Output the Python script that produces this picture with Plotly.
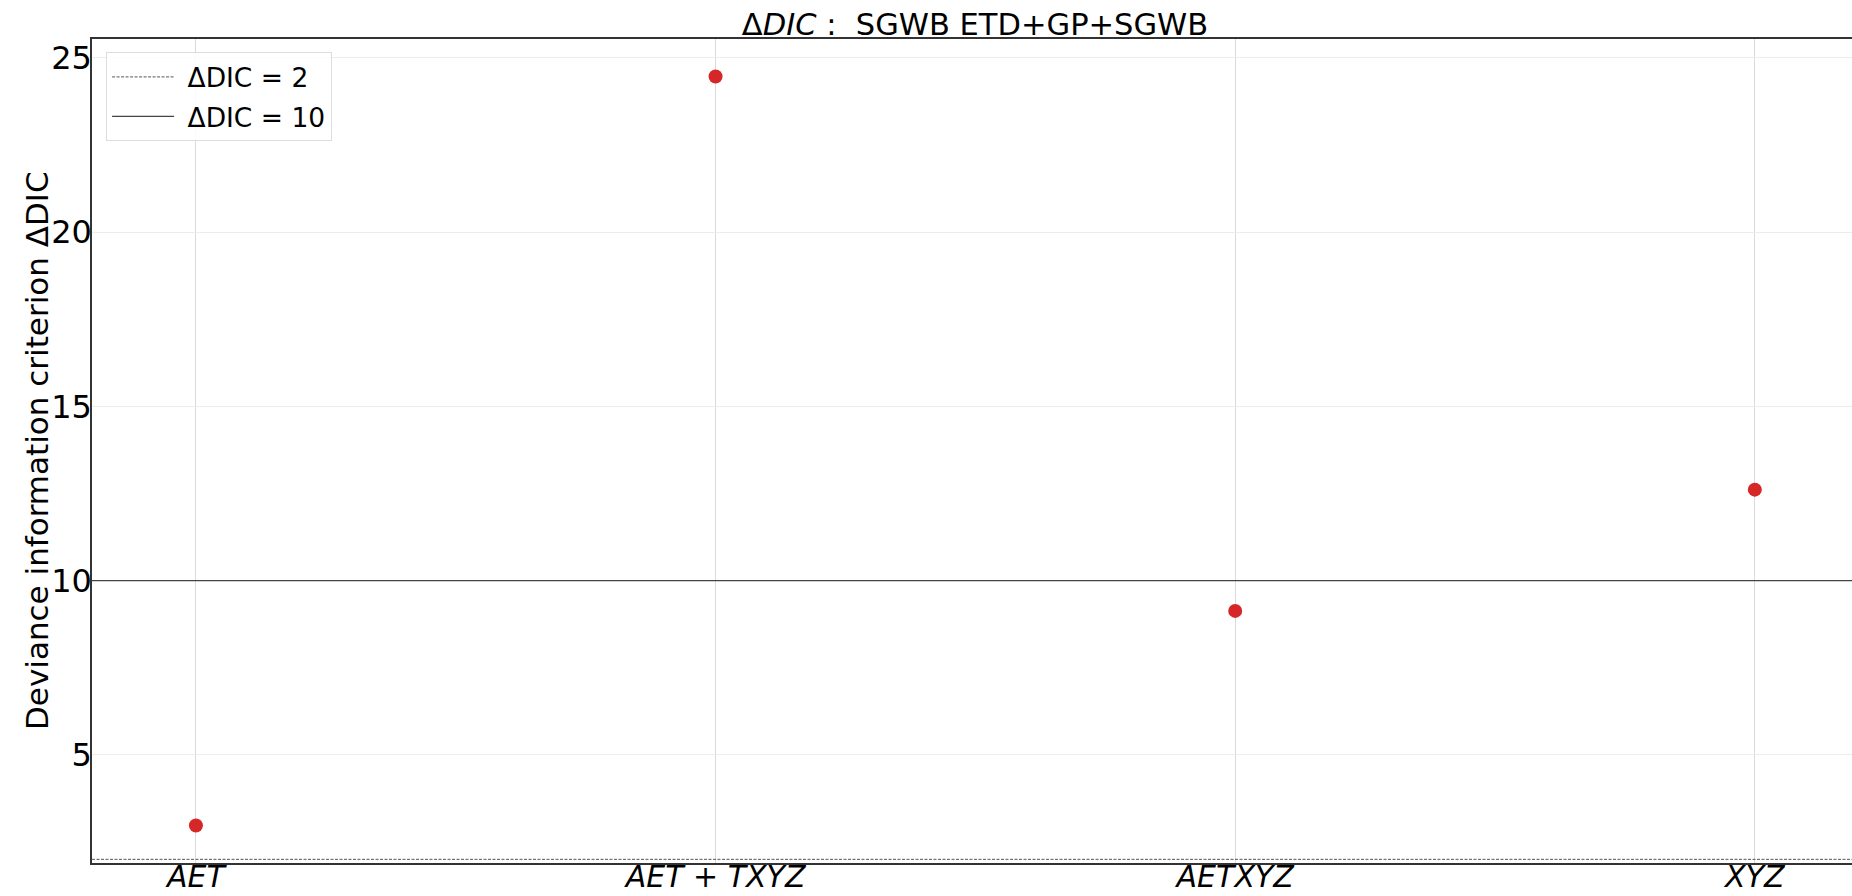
import plotly.graph_objects as go

# Detector channel combinations and their ΔDIC values
channels = ["AET", "AET + TXYZ", "AETXYZ", "XYZ"]
channel_labels = ["<i>AET</i>", "<i>AET</i> + <i>TXYZ</i>", "<i>AETXYZ</i>", "<i>XYZ</i>"]
delta_dic = [2.97, 24.47, 9.13, 12.61]

# Reference thresholds
weak_threshold = 2
strong_threshold = 10

positions = list(range(len(channels)))

FONT = "DejaVu Sans"
W, H = 1852, 896
ML, MR, MT, MB = 92, 0, 39, 33
PLOT_W = W - ML - MR

# y-limits with 5% padding around the data
span = max(delta_dic) - min(delta_dic)
y_lo = min(delta_dic) - 0.05 * span
y_hi = max(delta_dic) + 0.05 * span

fig = go.Figure()

fig.add_trace(go.Scatter(
    x=positions, y=delta_dic, mode="markers",
    marker=dict(color="#d62728", size=14),
    showlegend=False, hoverinfo="x+y",
))

fig.add_hline(
    y=weak_threshold, line=dict(color="#555555", width=1, dash="3px,1.5px"),
    showlegend=True, name=" ΔDIC = 2", legendgroup="a", layer="above",
)
fig.add_hline(
    y=strong_threshold, line=dict(color="#444444", width=1.3),
    showlegend=True, name=" ΔDIC = 10", legendgroup="b", layer="above",
)

# y-axis label placed beside the tick labels
fig.add_annotation(
    text="Deviance information criterion ΔDIC",
    xref="paper", yref="paper", x=(37 - ML) / PLOT_W, y=0.5,
    xanchor="center", yanchor="middle", textangle=-90, showarrow=False,
    font=dict(family=FONT, size=31, color="black"),
)

fig.update_layout(
    width=W, height=H,
    margin=dict(l=ML, r=MR, t=MT, b=MB),
    paper_bgcolor="white", plot_bgcolor="white",
    font=dict(family=FONT, color="black"),
    title=dict(
        text="Δ<i>DIC</i> :  SGWB ETD+GP+SGWB",
        font=dict(family=FONT, size=30.5, color="black"),
        x=975 / W, xanchor="center", xref="container",
        y=1, yref="paper", yanchor="bottom", pad=dict(b=4),
    ),
    legend=dict(
        x=0.008, y=0.984, xanchor="left", yanchor="top",
        bgcolor="rgba(255,255,255,0.85)", bordercolor="#dddddd", borderwidth=1,
        font=dict(family=FONT, size=26.5, color="black"),
        tracegroupgap=2, itemwidth=62,
    ),
    xaxis=dict(
        range=[-0.2, 3.187],
        tickvals=positions, ticktext=channel_labels,
        tickfont=dict(family=FONT, size=30, color="black"),
        showgrid=True, gridcolor="#dadada", gridwidth=1,
        zeroline=False, showline=True, linecolor="#333333", linewidth=1.5,
        mirror=True, ticks="", automargin=False, ticklabelstandoff=-14,
    ),
    yaxis=dict(
        range=[y_lo, y_hi],
        tickvals=[5, 10, 15, 20, 25],
        tickfont=dict(family=FONT, size=32, color="black"),
        showgrid=True, gridcolor="#ececec", gridwidth=1,
        zeroline=False, showline=True, linecolor="#333333", linewidth=1.5,
        ticks="", automargin=False, ticklabelstandoff=-8,
    ),
)

fig.write_html("out.html")
